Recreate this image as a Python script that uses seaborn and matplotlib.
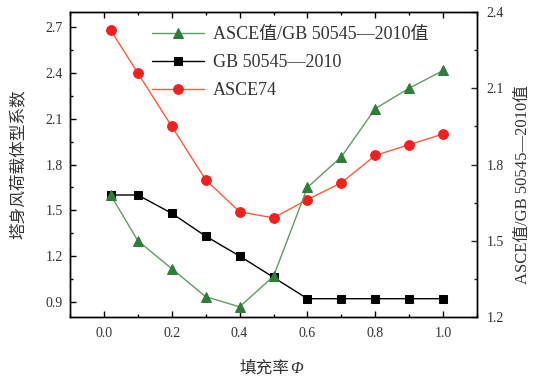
import matplotlib
matplotlib.use("Agg")
import matplotlib.pyplot as plt
import seaborn as sns
import pandas as pd
from matplotlib.ticker import FormatStrFormatter

x = [0.02, 0.1, 0.2, 0.3, 0.4, 0.5, 0.6, 0.7, 0.8, 0.9, 1.0]
asce74 = [2.68, 2.40, 2.05, 1.70, 1.49, 1.45, 1.57, 1.68, 1.86, 1.93, 2.00]
gb = [1.60, 1.60, 1.48, 1.33, 1.20, 1.06, 0.92, 0.92, 0.92, 0.92, 0.92]
ratio = [1.68, 1.50, 1.39, 1.28, 1.24, 1.36, 1.71, 1.83, 2.02, 2.10, 2.17]

lab_ratio = "ASCE值/GB 50545—2010值"
lab_gb = "GB 50545—2010"
lab_asce = "ASCE74"
xlabel_cn = "填充率"
xlabel_sym = "Φ"
ylabel_left = "塔身风荷载体型系数"
ylabel_right = "ASCE值/GB 50545—2010值"

sns.set_style("ticks")
fam = ['Liberation Serif', 'Noto Sans CJK SC', 'DejaVu Sans']
plt.rcParams['font.family'] = fam
plt.rcParams['axes.unicode_minus'] = False

df = pd.DataFrame({"x": x, "asce": asce74, "gb": gb, "ratio": ratio})

fig = plt.figure(figsize=(5.33, 3.78), dpi=100)
ax = fig.add_axes([0.1313, 0.1614, 0.7637, 0.8068])
ax2 = ax.twinx()

sns.lineplot(data=df, x="x", y="gb", ax=ax, color="black", lw=1.0,
             marker="s", markersize=6, markerfacecolor="black", markeredgecolor="black",
             label=lab_gb, legend=False)
sns.lineplot(data=df, x="x", y="asce", ax=ax, color="#ff5a3a", lw=1.0,
             marker="o", markersize=7, markerfacecolor="#f42020", markeredgecolor="#f42020",
             label=lab_asce, legend=False)
sns.lineplot(data=df, x="x", y="ratio", ax=ax2, color="#5f9e5f", lw=1.0,
             marker="^", markersize=7.5, markerfacecolor="#2e7d3a", markeredgecolor="#2e7d3a",
             label=lab_ratio, legend=False)

ax.set_xlim(-0.1, 1.1)
ax.set_ylim(0.8, 2.8)
ax2.set_ylim(1.2, 2.4)

ax.set_xticks([0.0, 0.2, 0.4, 0.6, 0.8, 1.0])
ax.set_xticks([-0.1, 0.1, 0.3, 0.5, 0.7, 0.9, 1.1], minor=True)
ax.xaxis.set_major_formatter(FormatStrFormatter("%.1f"))
ax.set_yticks([0.9, 1.2, 1.5, 1.8, 2.1, 2.4, 2.7])
ax.set_yticks([1.05, 1.35, 1.65, 1.95, 2.25, 2.55], minor=True)
ax.yaxis.set_major_formatter(FormatStrFormatter("%.1f"))
ax2.set_yticks([1.2, 1.5, 1.8, 2.1, 2.4])
ax2.set_yticks([1.35, 1.65, 1.95, 2.25], minor=True)
ax2.yaxis.set_major_formatter(FormatStrFormatter("%.1f"))

ax.tick_params(axis="both", which="both", direction="in", labelsize=10, colors="black", labelcolor="#333333")
ax.tick_params(axis="x", which="both", top=True, bottom=True)
ax.tick_params(which="major", length=4, width=1)
ax.tick_params(which="minor", length=2.5, width=1)
ax.tick_params(axis="x", which="major", pad=7)
ax.tick_params(axis="y", which="major", pad=5)
ax2.tick_params(axis="y", which="both", direction="in", labelsize=10, labelcolor="#333333")
ax2.tick_params(which="major", length=4, width=1, pad=7)
ax2.tick_params(which="minor", length=2.5, width=1)

for a in (ax, ax2):
    for s in a.spines.values():
        s.set_linewidth(1.0)
        s.set_color("black")
        s.set_visible(True)

ax.set_xlabel("")
ax.set_ylabel(ylabel_left, fontsize=12, labelpad=14, color="#333333")
ax2.set_ylabel(ylabel_right, fontsize=12, color="#333333")
ax2.yaxis.set_label_coords(1.113, 0.433)
ax2.yaxis.label.set_ha("center")
ax2.yaxis.label.set_va("center")

# x label: Chinese text plus italic Φ, built as two pieces centred together
t1 = fig.text(0, 0, xlabel_cn, fontsize=12, color="#333333", family=fam, va="center", ha="left")
t2 = fig.text(0, 0, xlabel_sym, fontsize=12, color="#333333", family=fam, style="italic", va="center", ha="left")
fig.canvas.draw()
r = fig.canvas.get_renderer()
w1 = t1.get_window_extent(r).width
w2 = t2.get_window_extent(r).width
W = fig.bbox.width
cx = 271.0
x0 = cx - (w1 + w2) / 2
ypos = 1 - 369.0 / 378.0
t1.set_position((x0 / W, ypos))
t2.set_position(((x0 + w1 + 0.5) / W, ypos))

h1, l1 = ax.get_legend_handles_labels()
h2, l2 = ax2.get_legend_handles_labels()
handles = [h2[0], h1[0], h1[1]]
labels = [l2[0], l1[0], l1[1]]
leg = ax2.legend(handles, labels, loc="upper left", bbox_to_anchor=(0.175, 0.99),
                 frameon=False, fontsize=13, handlelength=2.9, handletextpad=0.45,
                 labelspacing=0.62, borderaxespad=0.2)
for t in leg.get_texts():
    t.set_color("#333333")

fig.savefig("out.png", dpi=100)
